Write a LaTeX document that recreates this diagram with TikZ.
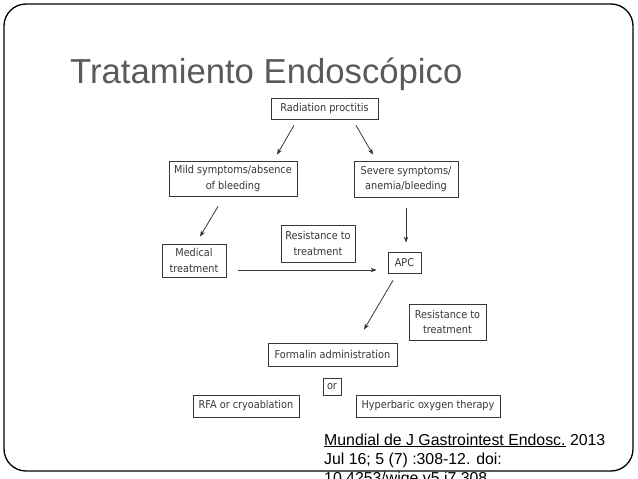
\documentclass[tikz,border=0pt]{standalone}
\usepackage{fontspec}
\setmainfont{Liberation Sans}
\newfontfamily\boxfont{DejaVu Sans Condensed}
\usepackage{xcolor}
\usetikzlibrary{arrows.meta}
\definecolor{titlegray}{RGB}{90,90,90}
\definecolor{boxgray}{RGB}{55,55,55}

\begin{document}
\begin{tikzpicture}[x=1pt,y=-1pt]
\tikzstyle{box}=[draw=boxgray, line width=0.8pt, fill=white, inner sep=0pt, align=center, text=boxgray, font=\boxfont\fontsize{10.8}{15.5}\selectfont]
\tikzstyle{arr}=[draw=boxgray, line width=0.8pt, -{Stealth[length=6pt,width=4.5pt]}]
\tikzstyle{cite}=[anchor=base west, inner sep=0pt, font=\fontsize{15.85}{19}\selectfont]
\useasboundingbox (0,0) rectangle (638,479);
\clip (0,0) rectangle (638,479);
\draw[line width=1.3pt, rounded corners=22pt] (4,4) rectangle (633,471);

\node[anchor=base west, inner sep=0pt, text=titlegray, font=\fontsize{34.7}{40}\selectfont] (title) at (70,83) {Tratamiento Endoscópico};

\node[box, minimum width=107pt, minimum height=21pt] (rad) at (324.5,108.5) {Radiation proctitis};
\node[box, minimum width=128pt, minimum height=35pt] (mild) at (233,178.5) {Mild symptoms/absence\\of bleeding};
\node[box, minimum width=104pt, minimum height=36pt] (severe) at (406,179) {Severe symptoms/\\anemia/bleeding};
\node[box, minimum width=64pt, minimum height=33pt] (medical) at (194,260.5) {Medical\\treatment};
\node[box, minimum width=74pt, minimum height=37pt] (resist1) at (318,243.5) {Resistance to\\treatment};
\node[box, minimum width=33pt, minimum height=21pt] (apc) at (404.5,262.5) {APC};
\node[box, minimum width=77pt, minimum height=36pt] (resist2) at (447.5,322) {Resistance to\\treatment};
\node[box, minimum width=129pt, minimum height=23pt] (formalin) at (332.5,354.5) {Formalin administration};
\node[box, minimum width=18pt, minimum height=17pt] (alt) at (332,386.5) {or};
\node[box, minimum width=106pt, minimum height=22pt] (rfa) at (246,406) {RFA or cryoablation};
\node[box, minimum width=144pt, minimum height=22pt] (hyper) at (428,406) {Hyperbaric oxygen therapy};

\path
([xshift=-30.5pt,yshift=-6pt]rad.south) edge[arr] ([xshift=44pt,yshift=6pt]mild.north)
([xshift=31.5pt,yshift=-6pt]rad.south) edge[arr] ([xshift=-33pt,yshift=6pt]severe.north)
([xshift=-15pt,yshift=-10pt]mild.south) edge[arr] ([xshift=6pt,yshift=7pt]medical.north)
([yshift=-11pt]severe.south) edge[arr] ([xshift=1.5pt,yshift=9pt]apc.north)
([xshift=12pt,yshift=-9.5pt]medical.east) edge[arr] ([xshift=-11pt,yshift=-7.5pt]apc.west)
([xshift=-11.5pt,yshift=-7pt]apc.south) edge[arr] ([xshift=31.5pt,yshift=13pt]formalin.north);

\node[cite] (cite1) at (324,445) {\underline{Mundial de J Gastrointest Endosc.} 2013};
\node[cite] (cite2) at (324,464) {Jul 16; 5 (7) :308-12. doi:};
\node[cite] (cite3) at (324,483) {10.4253/wjge.v5.i7.308};
\end{tikzpicture}
\end{document}
